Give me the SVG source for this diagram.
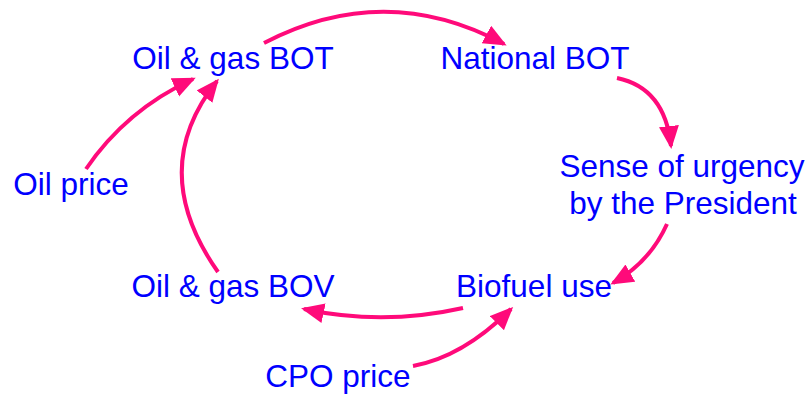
<svg xmlns="http://www.w3.org/2000/svg" width="807" height="396" viewBox="0 0 807 396">
  <style>
    .lbl { font-family: "Liberation Sans", Arial, sans-serif; font-size: 31.5px; fill: #0000ff; text-anchor: middle; }
    .link { fill: none; stroke: #ff0a7a; stroke-width: 4; marker-end: url(#head); }
  </style>
  <defs>
    <marker id="head" markerUnits="userSpaceOnUse" markerWidth="24" markerHeight="22" refX="20" refY="10" orient="auto">
      <path d="M0,0 L23,10 L0,20 z" fill="#ff0a7a"/>
    </marker>
  </defs>
  <rect width="807" height="396" fill="#ffffff"/>

  <g id="connectors">
    <path class="link" d="M264,43 Q385,-20 504,44"/>
    <path class="link" d="M617,78 Q665,88 671,146"/>
    <path class="link" d="M667,224 Q650,262 613,283"/>
    <path class="link" d="M463,308 Q383,326 304,309"/>
    <path class="link" d="M413,366 Q463,357 511,309"/>
    <path class="link" d="M86,169 Q126,110 193,79"/>
    <path class="link" d="M218,272 Q146,170 217,81"/>
  </g>

  <g id="oil-gas-bot"><text class="lbl" x="233" y="69">Oil &amp; gas BOT</text></g>
  <g id="national-bot"><text class="lbl" x="535" y="69">National BOT</text></g>
  <g id="sense-of-urgency">
    <text class="lbl" x="682" y="177">Sense of urgency</text>
    <text class="lbl" x="683" y="214">by the President</text>
  </g>
  <g id="biofuel-use"><text class="lbl" x="534" y="297">Biofuel use</text></g>
  <g id="oil-gas-bov"><text class="lbl" x="233" y="297">Oil &amp; gas BOV</text></g>
  <g id="cpo-price"><text class="lbl" x="338" y="387">CPO price</text></g>
  <g id="oil-price"><text class="lbl" x="71" y="195">Oil price</text></g>
</svg>
